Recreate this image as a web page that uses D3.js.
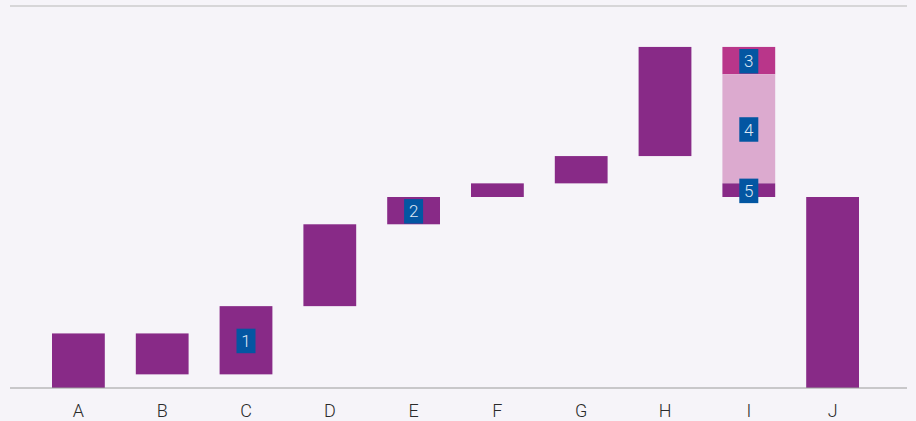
<!DOCTYPE html>
<html>
<head>
<meta charset="utf-8">
<script src="https://cdn.jsdelivr.net/npm/d3@7"></script>
<style>
  html, body { margin: 0; padding: 0; background: #f6f4f9; }
  svg { display: block; }
  text { font-family: Roboto, "Noto Sans", sans-serif; }
</style>
</head>
<body>
<svg id="chart" width="916" height="421"></svg>
<script>
// Waterfall steps: each bar runs from `starts` to `ends`
const categories = ["A", "B", "C", "D", "E", "F", "G", "H", "I", "J"];
const starts = [0, 4, 1, 6, 12, 14, 15, 17, null, 0];
const ends   = [4, 1, 6, 12, 14, 15, 17, 25, null, 14];

// Category I is split into three stacked decreases
const splitCategory = "I";
const splitStarts = [25, 23, 15];
const splitEnds   = [23, 15, 14];
const splitKinds  = ["accent", "light", "main"];

// Numbered markers: category, segment index (-1 = the single bar), label
const markerCats  = ["C", "E", "I", "I", "I"];
const markerSegs  = [-1, -1, 0, 1, 2];
const markerTexts = ["1", "2", "3", "4", "5"];

const yMax = 28;

const colors = { main: "#882a87", accent: "#b9368a", light: "#dcaacf" };

const svg = d3.select("#chart");
const plotLeft = 10, plotRight = 907, plotTop = 6, plotBottom = 388;

const x = d3.scaleBand()
  .domain(categories)
  .range([36.5, 874.5])
  .paddingInner(0.37)
  .paddingOuter(0.185);

const y = d3.scaleLinear().domain([0, yMax]).range([plotBottom, plotTop]);

// Top frame line
svg.append("line")
  .attr("x1", plotLeft).attr("x2", plotRight)
  .attr("y1", y(yMax)).attr("y2", y(yMax))
  .attr("stroke", "#b8b8b8").attr("stroke-width", 1.2);

// Collect segments
const segments = [];
categories.forEach((c, i) => {
  if (c === splitCategory) {
    splitStarts.forEach((s, k) => segments.push({ cat: c, seg: k, from: s, to: splitEnds[k], kind: splitKinds[k] }));
  } else {
    segments.push({ cat: c, seg: -1, from: starts[i], to: ends[i], kind: "main" });
  }
});

svg.append("g").selectAll("rect")
  .data(segments)
  .join("rect")
  .attr("x", d => x(d.cat))
  .attr("width", x.bandwidth())
  .attr("y", d => y(Math.max(d.from, d.to)))
  .attr("height", d => Math.abs(y(d.from) - y(d.to)))
  .attr("fill", d => colors[d.kind]);

// Category axis
const axis = svg.append("g")
  .attr("transform", `translate(0,${plotBottom})`)
  .call(d3.axisBottom(x).tickSize(0).tickPadding(16.5));
axis.select(".domain").remove();
axis.selectAll("text")
  .attr("font-size", 18)
  .attr("font-weight", 300)
  .attr("fill", "#2a2a2a")
  .attr("font-family", "Roboto, sans-serif");
svg.append("line")
  .attr("x1", plotLeft).attr("x2", plotRight)
  .attr("y1", plotBottom).attr("y2", plotBottom)
  .attr("stroke", "#9a9a9a").attr("stroke-width", 1);

// Markers
const bw = 19, bh = 24.5;
const markers = markerCats.map((c, i) => {
  const s = segments.find(d => d.cat === c && d.seg === markerSegs[i]);
  return { cx: x(c) + x.bandwidth() / 2, cy: (y(s.from) + y(s.to)) / 2 + 0.7, t: markerTexts[i] };
});
const mg = svg.append("g").selectAll("g").data(markers).join("g")
  .attr("transform", d => `translate(${d.cx},${d.cy})`);
mg.append("rect")
  .attr("x", -bw / 2).attr("y", -bh / 2)
  .attr("width", bw).attr("height", bh)
  .attr("fill", "#0356a2");
mg.append("text")
  .attr("text-anchor", "middle")
  .attr("dy", "0.36em")
  .attr("font-size", 17)
  .attr("font-weight", 300)
  .attr("fill", "#dfe7f4")
  .text(d => d.t);
</script>
</body>
</html>
